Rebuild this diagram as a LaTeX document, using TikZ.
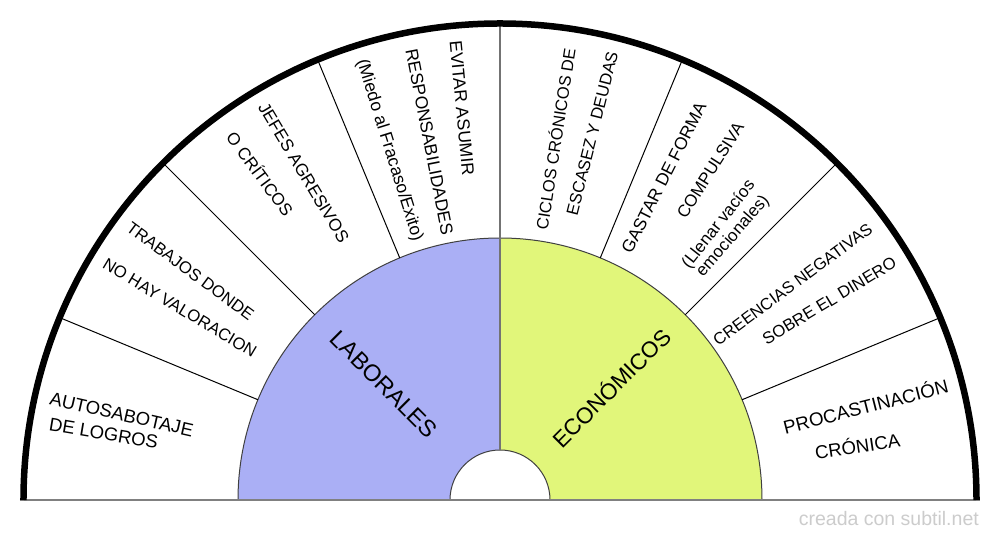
\documentclass[tikz,border=0pt]{standalone}
\usepackage{fontspec}
\setmainfont{Liberation Sans}
\definecolor{lblue}{HTML}{AAAFF5}
\definecolor{lgreen}{HTML}{E1F67A}
\definecolor{markgray}{HTML}{CCCCCC}
\newcommand\Lt[5]{\node[lbl,rotate={#2-180},font=\fontsize{#4}{#4}\selectfont,text height={0.72*#4pt}] (#1) at (#2:#3) {#5};}
\newcommand\Rt[5]{\node[lbl,rotate={#2},font=\fontsize{#4}{#4}\selectfont,text height={0.72*#4pt}] (#1) at (#2:#3) {#5};}
\begin{document}
\begin{tikzpicture}[x=1pt,y=1pt,
  lbl/.style={inner sep=0pt,outer sep=0pt,text depth=0pt,anchor=center,text=black},
  spoke/.style={line width=1pt,black},
  rim/.style={line width=6.5pt,black},
  base/.style={line width=2pt,black!50},
  edge/.style={line width=1pt,black!75}]
\useasboundingbox (-500,-40) rectangle (500,500);
\fill[white] (-500,-40) rectangle (500,500);
% coloured halves
\fill[lblue] (-262,0) arc[start angle=180,end angle=90,radius=262] -- (0,50) arc[start angle=90,end angle=180,radius=50] -- cycle;
\fill[lgreen] (0,262) arc[start angle=90,end angle=0,radius=262] -- (50,0) arc[start angle=0,end angle=90,radius=50] -- cycle;
\draw[edge] (-262,0) arc[start angle=180,end angle=0,radius=262];
\draw[edge] (-50,0) arc[start angle=180,end angle=0,radius=50];
% spokes
\foreach \a in {22.5,45,67.5,112.5,135,157.5}
  \draw[spoke] (\a:262) -- (\a:476.5);
\draw[line width=1.2pt,black!55] (0,50) -- (0,476.5);
% baseline
\draw[base] (-480,0) -- (480,0);
% outer rim
\draw[rim] (-476.5,0) arc[start angle=180,end angle=0,radius=476.5];
% left texts
\Lt{l1}{167.2}{388}{18.5}{AUTOSABOTAJE}
\Lt{l2}{170.4}{401.9}{18.5}{DE LOGROS}
\Lt{l3}{143.5}{384.9}{16.7}{TRABAJOS DONDE}
\Lt{l4}{149.0}{373.4}{16.7}{NO HAY VALORACION}
\Lt{l5}{120.9}{381.7}{17.2}{JEFES AGRESIVOS}
\Lt{l6}{126.4}{404.8}{17}{O CRÍTICOS}
\Lt{l7}{95.5}{393.8}{17.5}{EVITAR ASUMIR}
\Lt{l8}{101.1}{365.1}{17.5}{RESPONSABILIDADES}
\Lt{l9}{107.3}{366.6}{17.5}{(Miedo al Fracaso/Exito)}
% right texts
\Rt{r1}{81.2}{365.1}{16.6}{CICLOS CRÓNICOS DE}
\Rt{r2}{75.9}{378.1}{16.7}{ESCASEZ Y DEUDAS}
\Rt{r3}{63.1}{361.5}{17.4}{GASTAR DE FORMA}
\Rt{r4}{57.5}{391.2}{16.9}{COMPULSIVA}
\Rt{r5}{51.8}{352}{17}{(Llenar vacíos}
\Rt{r6}{48.8}{352}{17}{emocionales)}
\Rt{r7}{36.4}{363.5}{16.5}{CREENCIAS NEGATIVAS}
\Rt{r8}{31.2}{384.8}{16.7}{SOBRE EL DINERO}
\Rt{r9}{14.3}{377.5}{18.8}{PROCASTINACIÓN}
\Rt{r10}{8.5}{361.5}{18.6}{CRÓNICA}
% centre labels
\Lt{lab}{135}{163.8}{23.5}{LABORALES}
\Rt{eco}{45}{158}{22.5}{ECONÓMICOS}
% watermark
\node[inner sep=0pt,anchor=base east,text=markgray,font=\fontsize{19.5}{19.5}\selectfont] (mark) at (479,-25.7) {creada con subtil.net};
\end{tikzpicture}
\end{document}
